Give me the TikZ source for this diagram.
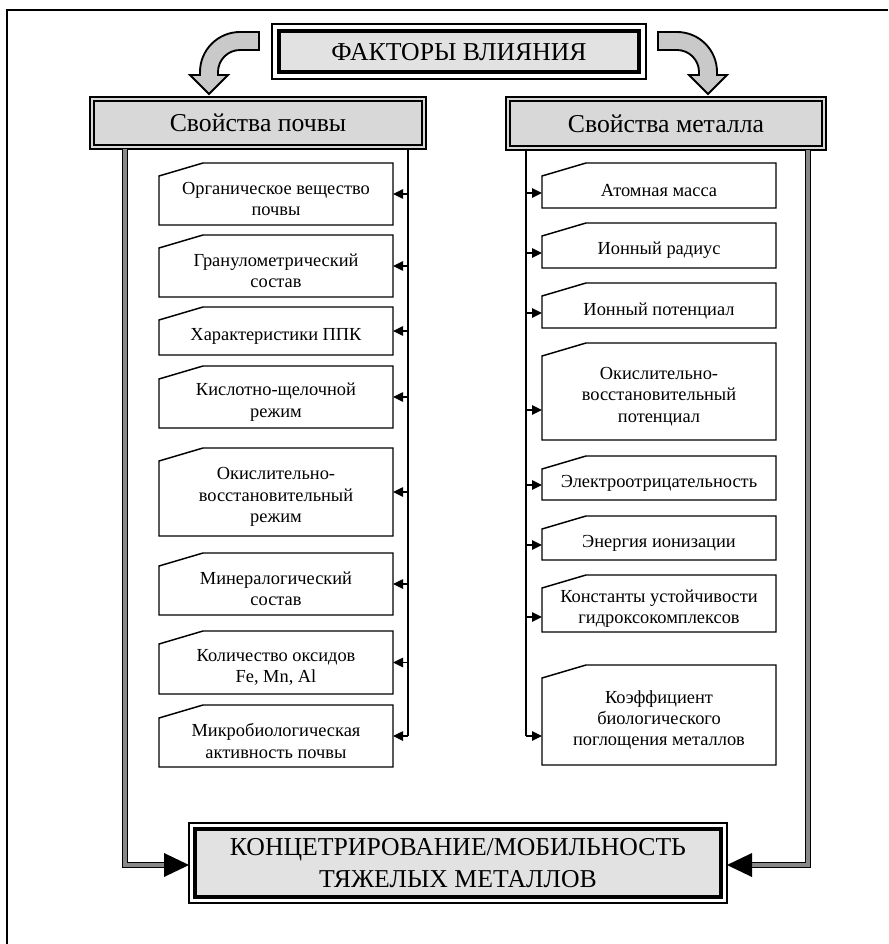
\documentclass[tikz,border=0pt]{standalone}
\usepackage{fontspec}
\setmainfont{Liberation Serif}
\usetikzlibrary{arrows.meta,calc,fit}
\definecolor{fillA}{HTML}{E2E2E2}
\definecolor{fillH}{HTML}{D8D8D8}
\definecolor{fillR}{HTML}{C9C9C9}
\tikzset{
  frameln/.style={line width=2.2pt},
  boxln/.style={line width=1.1pt},
  hole/.style={inner sep=0pt, outer sep=0pt},
  smalltxt/.style={font=\fontsize{13.8}{16}\selectfont, align=center, inner sep=0pt},
  bigtxt/.style={font=\fontsize{19.3}{24}\selectfont, align=center, inner sep=0pt},
  conn/.style={line width=1.1pt},
  arr/.style={line width=1.1pt, -{Triangle[length=7.5pt,width=7pt]}},
  dblline/.style={line width=1pt, double=gray!45!black!60, double distance=2.4pt},
  curvarr/.style={fill=fillR, draw=black, line width=1.4pt, line join=miter},
}
\newcommand{\notchbox}[6]{%
  \node[hole, fit={(#2,#3) (#4,#5)}] (#1) {};
  \draw[boxln, fill=white] ($(#1.north west)+(0,13)$) -- ($(#1.north west)+(44,0)$) -- (#1.north east) -- (#1.south east) -- (#1.south west) -- cycle;
  \node[smalltxt] (#1t) at ($(#1.center)+(0,5)$) {#6};
}
\begin{document}
\begin{tikzpicture}[x=0.75pt,y=-0.75pt]
\useasboundingbox (0,0) rectangle (888,944);
% outer frame
\draw[frameln] (7,944) -- (7,10) -- (888,10);

% top box
\node[hole, fit={(272,24) (646,79)}] (factors) {};
\draw[line width=0.8pt, fill=white] (factors.north west) rectangle (factors.south east);
\draw[line width=3pt, fill=fillA] ($(factors.north west)+(7,7)$) rectangle ($(factors.south east)+(-7,-7)$);
\node[bigtxt] (factorst) at ($(factors.center)+(0,1)$) {ФАКТОРЫ ВЛИЯНИЯ};

% curved arrows
\draw[curvarr] (259,32) -- (240,32) .. controls (217.9,32) and (200,49.9) .. (200,72) -- (200,75) -- (190,75) -- (209,94) -- (228,75) -- (218,75) -- (218,72) .. controls (218,59.9) and (227.9,50) .. (240,50) -- (259,50) -- cycle;
\draw[curvarr] (658,32) -- (677,32) .. controls (699.1,32) and (717,49.9) .. (717,72) -- (717,75) -- (727,75) -- (708,94) -- (689,75) -- (699,75) -- (699,72) .. controls (699,59.9) and (689.1,50) .. (677,50) -- (658,50) -- cycle;

% header boxes
\node[hole, fit={(90,97) (426,149)}] (soil) {};
\draw[line width=1.3pt, fill=fillH] (soil.north west) rectangle (soil.south east);
\draw[line width=0.9pt] ($(soil.north west)+(4,4)$) rectangle ($(soil.south east)+(-4,-4)$);
\node[bigtxt] (soilt) at (soil.center) {Свойства почвы};

\node[hole, fit={(506,97) (826,150)}] (metal) {};
\draw[line width=1.3pt, fill=fillH] (metal.north west) rectangle (metal.south east);
\draw[line width=0.9pt] ($(metal.north west)+(4,4)$) rectangle ($(metal.south east)+(-4,-4)$);
\node[bigtxt] (metalt) at (metal.center) {Свойства металла};

% result box
\node[hole, fit={(189,823) (727,903)}] (result) {};
\draw[line width=0.8pt, fill=white] (result.north west) rectangle (result.south east);
\draw[line width=3.2pt, fill=fillA] ($(result.north west)+(6,6)$) rectangle ($(result.south east)+(-6,-6)$);
\node[bigtxt] (resultt) at (result.center) {КОНЦЕТРИРОВАНИЕ/МОБИЛЬНОСТЬ\\ТЯЖЕЛЫХ МЕТАЛЛОВ};

% soil property boxes
\notchbox{o1}{159}{163}{393}{225}{Органическое вещество\\почвы}
\notchbox{o2}{159}{235}{393}{297}{Гранулометрический\\состав}
\notchbox{o3}{159}{307}{393}{355}{Характеристики ППК}
\notchbox{o4}{159}{366}{393}{428}{Кислотно-щелочной\\режим}
\notchbox{o5}{159}{448}{393}{536}{Окислительно-\\восстановительный\\режим}
\notchbox{o6}{159}{553}{393}{615}{Минералогический\\состав}
\notchbox{o7}{159}{631}{393}{694}{Количество оксидов\\Fe, Mn, Al}
\notchbox{o8}{159}{705}{393}{767}{Микробиологическая\\активность почвы}

% metal property boxes
\notchbox{m1}{542}{163}{776}{208}{Атомная масса}
\notchbox{m2}{542}{223}{776}{268}{Ионный радиус}
\notchbox{m3}{542}{283}{776}{328}{Ионный потенциал}
\notchbox{m4}{542}{343}{776}{440}{Окислительно-\\восстановительный\\потенциал}
\notchbox{m5}{542}{456}{776}{500}{Электроотрицательность}
\notchbox{m6}{542}{516}{776}{560}{Энергия ионизации}
\notchbox{m7}{542}{575}{776}{632}{Константы устойчивости\\гидроксокомплексов}
\notchbox{m8}{542}{665}{776}{765}{Коэффициент\\биологического\\поглощения металлов}

% thin connectors, soil side
\coordinate (lv) at ($(soil.south west)+(318,0)$);
\draw[conn] (lv) -- (lv |- o8.east);
\foreach \b in {o1,o2,o3,o4,o5,o6,o7,o8}
  \draw[arr] (lv |- \b.east) -- (\b.east);

% thin connectors, metal side
\coordinate (rv) at ($(metal.south west)+(20,0)$);
\foreach \b in {m1,m2,m3,m5,m6,m7}
  \coordinate (\b a) at ($(\b.south west)+(0,-15)$);
\coordinate (m4a) at ($(m4.south west)+(0,-30)$);
\coordinate (m8a) at ($(m8.south west)+(0,-29)$);
\draw[conn] (rv) -- (rv |- m8a);
\foreach \b in {m1,m2,m3,m4,m5,m6,m7,m8}
  \draw[arr] (rv |- \b a) -- (\b a);

% double connectors to result
\coordinate (ldv) at ($(soil.south west)+(35,0)$);
\coordinate (rdv) at ($(metal.south east)+(-18,0)$);
\draw[dblline] (ldv) |- ($(result.west)+(-20,2)$);
\draw[dblline] (rdv) |- ($(result.east)+(20,2)$);
\fill ($(result.west)+(0,2)$) -- ++(-25,-12) -- ++(0,24) -- cycle;
\fill ($(result.east)+(0,2)$) -- ++(25,-12) -- ++(0,24) -- cycle;
\end{tikzpicture}
\end{document}
